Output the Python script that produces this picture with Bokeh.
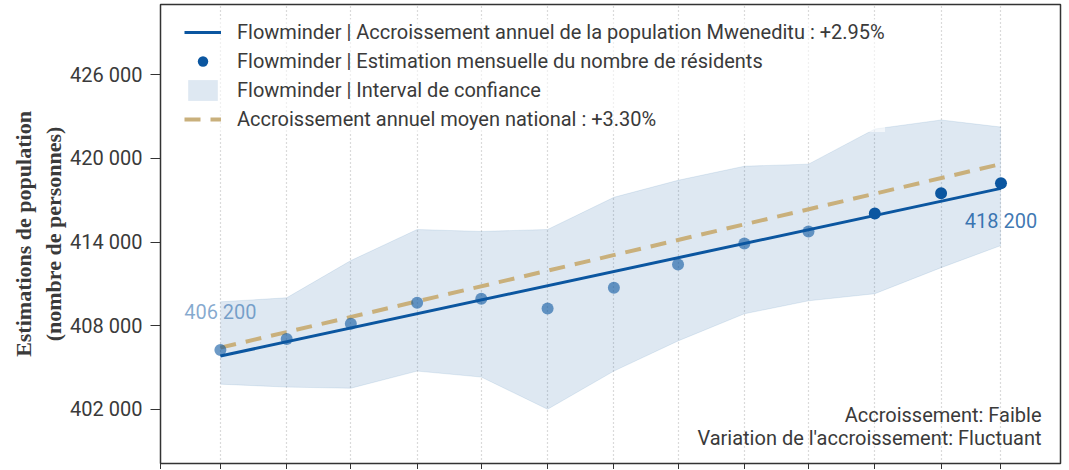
import pandas as pd
from bokeh.plotting import figure
from bokeh.models import (Range1d, FixedTicker, CustomJSTickFormatter, Label, Legend,
                          LegendItem, ColumnDataSource)
from bokeh.core.properties import value
from bokeh.embed import file_html
from bokeh.resources import INLINE

# ---------------- data ----------------
months = ["2022-03-01", "2022-04-01", "2022-05-01", "2022-06-01", "2022-07-01",
          "2022-08-01", "2022-09-01", "2022-10-01", "2022-11-01", "2022-12-01",
          "2023-01-01", "2023-02-01", "2023-03-01"]
estimates = [406250, 407050, 408130, 409640, 409930, 409230, 410720,
             412380, 413890, 414760, 416050, 417500, 418220]
estimate_alpha = [0.6, 0.6, 0.6, 0.6, 0.6, 0.6, 0.6, 0.6, 0.6, 0.6, 1.0, 1.0, 1.0]
ci_upper = [409710, 410000, 412670, 414900, 414760, 414900, 417210,
            418430, 419440, 419590, 422110, 422760, 422250]
ci_lower = [403800, 403590, 403510, 404740, 404310, 402000, 404740,
            406900, 408850, 409780, 410290, 412160, 413750]

trend_dates = ["2022-03-01", "2023-03-01"]
trend_values = [405820, 417850]          # Mweneditu +2.95 %
national_values = [406420, 419600]       # national +3.30 %

tick_months = ["2022-02-01", "2022-03-01", "2022-04-01", "2022-05-01", "2022-06-01",
               "2022-07-01", "2022-08-01", "2022-09-01", "2022-10-01", "2022-11-01",
               "2022-12-01", "2023-01-01", "2023-02-01", "2023-03-01"]
y_ticks = [402000, 408000, 414000, 420000, 426000]

first_label = "406 200"
last_label = "418 200"
legend_labels = [
    "Flowminder | Accroissement annuel de la population Mweneditu : +2.95%",
    "Flowminder | Estimation mensuelle du nombre de résidents",
    "Flowminder | Interval de confiance",
    "Accroissement annuel moyen national : +3.30%",
]
note_1 = "Accroissement: Faible"
note_2 = "Variation de l'accroissement: Fluctuant"
y_title = "Estimations de population\n(nombre de personnes)"

# ---------------- styling ----------------
BLUE = "#0b56a0"
TAN = "#c9b07c"
FONT = "Roboto"
TXT = "#3a3a3a"

dates = pd.to_datetime(months)
src = ColumnDataSource(dict(x=dates, y=estimates, a=estimate_alpha,
                            up=ci_upper, lo=ci_lower))

p = figure(width=1063, height=469, x_axis_type="datetime",
           output_backend="svg", toolbar_location=None,
           x_range=Range1d(pd.Timestamp("2022-02-01"), pd.Timestamp("2023-03-28 20:00")),
           y_range=Range1d(398108, 431045),
           min_border_left=160, min_border_right=3, min_border_top=4, min_border_bottom=0)

p.outline_line_color = "#333333"
p.outline_line_width = 1.5
p.background_fill_color = "white"
p.border_fill_color = "white"

# grid
p.ygrid.visible = False
p.xgrid.grid_line_color = "#b5b5b5"
p.xgrid.grid_line_dash = "1 3"
p.xgrid.grid_line_width = 1.2

# x axis (labels cut off in the reference)
p.xaxis.ticker = FixedTicker(ticks=[pd.Timestamp(d).value / 1e6 for d in tick_months])
p.xaxis.formatter = CustomJSTickFormatter(code="return '';")
p.xaxis.major_label_standoff = 0
p.xaxis.major_tick_out = 6
p.xaxis.major_tick_in = 0
p.xaxis.minor_tick_line_color = None
p.xaxis.axis_line_color = "#333333"
p.xaxis.major_tick_line_color = "#333333"

# y axis
p.yaxis.ticker = FixedTicker(ticks=y_ticks)
p.yaxis.formatter = CustomJSTickFormatter(
    code="return tick.toFixed(0).replace(/\\B(?=(\\d{3})+(?!\\d))/g, ' ');")
p.yaxis.major_label_text_font = FONT
p.yaxis.major_label_text_font_size = "20px"
p.yaxis.major_label_text_color = TXT
p.yaxis.major_label_standoff = 8
p.yaxis.major_tick_out = 10
p.yaxis.major_tick_in = 0
p.yaxis.minor_tick_line_color = None
p.yaxis.axis_line_color = "#333333"
p.yaxis.major_tick_line_color = "#333333"
p.yaxis.axis_label = y_title
p.yaxis.axis_label_text_font = "Liberation Serif"
p.yaxis.axis_label_text_font_style = "bold"
p.yaxis.axis_label_text_font_size = "22px"
p.yaxis.axis_label_text_color = TXT
p.yaxis.axis_label_standoff = 1

# band
band = p.varea(x="x", y1="lo", y2="up", source=src, fill_color=BLUE, fill_alpha=0.135)
p.line(x="x", y="up", source=src, line_color=BLUE, line_alpha=0.1, line_width=1)
p.line(x="x", y="lo", source=src, line_color=BLUE, line_alpha=0.1, line_width=1)

tdates = pd.to_datetime(trend_dates)
nat = p.line(x=tdates, y=national_values, line_color=TAN, line_width=4, line_dash="16 10")
trend = p.line(x=tdates, y=trend_values, line_color=BLUE, line_width=3)
pts = p.scatter(x="x", y="y", source=src, size=12, fill_color=BLUE, line_color=None,
                fill_alpha="a")

# end labels
p.text(x=[dates[0]], y=[estimates[0]], text=[first_label], text_font=value(FONT),
       text_font_size="20px", text_color=BLUE, text_alpha=0.5, text_align="center",
       text_baseline="alphabetic", y_offset=-38)
p.text(x=[dates[-1]], y=[estimates[-1]], text=[last_label], text_font=value(FONT),
       text_font_size="20px", text_color=BLUE, text_alpha=0.8, text_align="center",
       text_baseline="alphabetic", y_offset=38)

# legend
legend = Legend(items=[
    LegendItem(label=legend_labels[0], renderers=[trend]),
    LegendItem(label=legend_labels[1], renderers=[pts], index=12),
    LegendItem(label=legend_labels[2], renderers=[band]),
    LegendItem(label=legend_labels[3], renderers=[nat]),
], location=(24, 331))
legend.padding = 5
legend.margin = 0
legend.spacing = 3
legend.glyph_width = 37
legend.glyph_height = 26
legend.label_height = 26
legend.label_standoff = 16
legend.label_text_font = FONT
legend.label_text_font_size = "20px"
legend.label_text_color = TXT
legend.border_line_color = None
legend.background_fill_color = "white"
legend.background_fill_alpha = 0.6
p.add_layout(legend, "center")

# notes at bottom right
fw = 899
for txt, yy in [(note_1, 49), (note_2, 26)]:
    p.add_layout(Label(x=fw - 18, y=yy, x_units="screen", y_units="screen", text=txt,
                       text_font=FONT, text_font_size="20px", text_color=TXT,
                       text_align="right", text_baseline="alphabetic"))

open("out.html", "w").write(file_html(p, INLINE))
